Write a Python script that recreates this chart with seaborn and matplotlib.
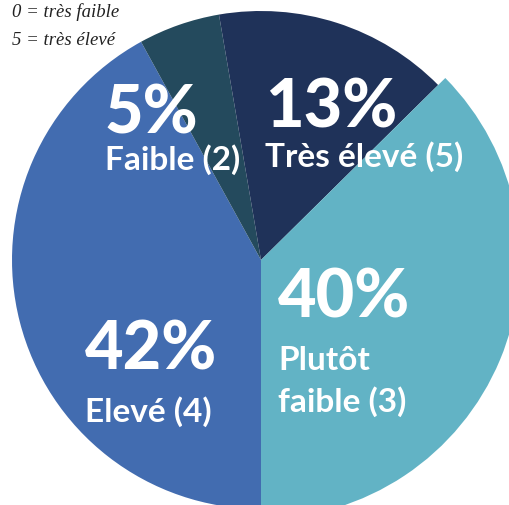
import matplotlib
matplotlib.use("Agg")
import matplotlib.pyplot as plt
import seaborn as sns

# slices in clockwise order starting from the bottom (6 o'clock)
categories = ["Elevé (4)", "Faible (2)", "Très élevé (5)", "Plutôt\nfaible (3)"]
pct_labels = ["42%", "5%", "13%", "40%"]
# share of the circle each wedge takes in the drawing
slice_share = [42.0, 5.3, 15.3, 37.4]
colors = ["#426CB0", "#244A5D", "#1F3259", "#62B3C5"]

sns.set_theme(style="white")
plt.rcParams["font.family"] = ["Lato", "DejaVu Sans"]

W, H = 509, 505
fig = plt.figure(figsize=(W / 100, H / 100), dpi=100)
ax = fig.add_axes([0, 0, 1, 1])

# pie centre / radius in pixel units (y measured upward)
cx, cy, r = 261, H - 260, 249
wedges, _ = ax.pie(slice_share, colors=colors, startangle=270, counterclock=False,
                   center=(cx, cy), radius=r, wedgeprops=dict(linewidth=0))
# the light blue slice sticks out a little in the original
wedges[3].set_radius(r + 10)
ax.set_xlim(0, W)
ax.set_ylim(0, H)
ax.set_aspect("equal")
ax.axis("off")

# label anchor points (left, baseline) in pixels from top-left
pct_pos = [(85, 370), (105, 133), (265, 128), (278, 317)]
cat_pos = [(85, 422), (105, 170), (265, 167), (278, 370)]

for pct, cat, (px, py), (lx, ly) in zip(pct_labels, categories, pct_pos, cat_pos):
    ax.text(px, H - py, pct, color="white", fontsize=48, fontweight="black",
            ha="left", va="baseline")
    for j, line in enumerate(cat.split("\n")):
        ax.text(lx, H - (ly + 42 * j), line, color="white", fontsize=24,
                fontweight="bold", ha="left", va="baseline")

legend_lines = ["0 = très faible", "5 = très élevé"]
for i, line in enumerate(legend_lines):
    ax.text(12, H - (17 + 28 * i), line, color="#222222", fontsize=13.5,
            fontstyle="italic", family=["Liberation Serif", "DejaVu Serif"],
            ha="left", va="baseline")

fig.savefig("out.png", dpi=100)
